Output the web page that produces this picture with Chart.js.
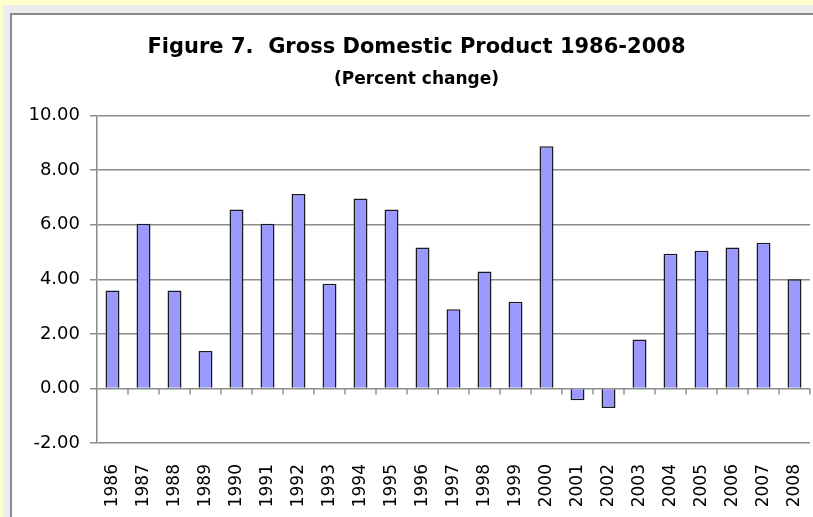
<!DOCTYPE html>
<html>
<head>
<meta charset="utf-8">
<title>Figure 7. Gross Domestic Product 1986-2008</title>
<script src="https://cdn.jsdelivr.net/npm/chart.js@4/dist/chart.umd.min.js"></script>
<style>
    html, body {
        margin: 0;
        padding: 0;
        width: 813px;
        height: 517px;
        overflow: hidden;
        background: #ffffcc;
    }
    #gdpChart {
        position: absolute;
        left: 0;
        top: 0;
    }
</style>
</head>
<body>
<canvas id="gdpChart" width="813" height="517"></canvas>
<script>
// ============================================================================
// Data
// ============================================================================

const YEARS = [
    '1986', '1987', '1988', '1989', '1990', '1991', '1992', '1993',
    '1994', '1995', '1996', '1997', '1998', '1999', '2000', '2001',
    '2002', '2003', '2004', '2005', '2006', '2007', '2008'
];

// GDP, percent change on previous year
const GDP_CHANGE = [
    3.59, 6.04, 3.59, 1.37, 6.56, 6.04, 7.13, 3.84,
    6.96, 6.56, 5.17, 2.90, 4.29, 3.18, 8.88, -0.43,
    -0.72, 1.79, 4.94, 5.05, 5.17, 5.34, 4.00
];

const Y_MIN = -2;
const Y_MAX = 10;
const Y_STEP = 2;

// ============================================================================
// Styling
// ============================================================================

const FONT_FAMILY = '"DejaVu Sans", sans-serif';
const GRID_COLOR = '#8c8c8c';
const BAR_FILL = '#9999ff';
const BAR_EDGE = '#1a1a1a';

/**
 * Page backdrop: pale yellow page, grey window frame, white chart panel
 */
const panelBackdrop = {
    id: 'panelBackdrop',
    beforeDraw(chart) {
        const { ctx, width, height } = chart;
        ctx.save();
        ctx.fillStyle = '#ffffcc';
        ctx.fillRect(0, 0, width, height);
        ctx.fillStyle = '#ececec';
        ctx.fillRect(3, 5, width - 3, height - 5);
        ctx.fillStyle = GRID_COLOR;
        ctx.fillRect(10, 13, width - 10, height - 13);
        ctx.fillStyle = '#ffffff';
        ctx.fillRect(12, 15, width - 12, height - 15);
        ctx.restore();
    }
};

/**
 * Small tick marks hanging under the zero line, one per category boundary
 * (the category axis crosses the value axis at 0, Excel style)
 */
const zeroLineTicks = {
    id: 'zeroLineTicks',
    afterDatasetsDraw(chart) {
        const { ctx, scales: { x, y } } = chart;
        const y0 = y.getPixelForValue(0);
        const n = YEARS.length;

        ctx.save();
        ctx.strokeStyle = GRID_COLOR;
        ctx.lineWidth = 1.5;
        ctx.beginPath();
        for (let i = 1; i <= n; i++) {
            const px = i < n
                ? (x.getPixelForValue(i - 1) + x.getPixelForValue(i)) / 2
                : x.right;
            ctx.moveTo(px, y0);
            ctx.lineTo(px, y0 + 6);
        }
        ctx.stroke();
        ctx.restore();
    }
};

// ============================================================================
// Chart
// ============================================================================

const initGdpChart = () => {
    const canvas = document.getElementById('gdpChart');
    if (!canvas) {
        console.warn('Chart canvas element not found');
        return;
    }

    Chart.defaults.color = '#000000';
    Chart.defaults.font.family = FONT_FAMILY;

    new Chart(canvas.getContext('2d'), {
        type: 'bar',
        data: {
            labels: YEARS,
            datasets: [{
                data: GDP_CHANGE,
                backgroundColor: BAR_FILL,
                borderColor: BAR_EDGE,
                borderWidth: 1.5,
                barPercentage: 0.45,
                categoryPercentage: 1.0,
            }]
        },
        options: {
            responsive: false,
            animation: false,
            layout: {
                padding: { top: 0, left: 23, right: 3, bottom: 0 }
            },
            plugins: {
                legend: { display: false },
                tooltip: { enabled: false },
                title: {
                    display: true,
                    text: 'Figure 7.  Gross Domestic Product 1986-2008',
                    font: { size: 21, weight: 'bold', lineHeight: 1.2 },
                    padding: { top: 35, bottom: 3 },
                },
                subtitle: {
                    display: true,
                    text: '(Percent change)',
                    font: { size: 17, weight: 'bold', lineHeight: 1.2 },
                    padding: { top: 6, bottom: 26 },
                },
            },
            scales: {
                x: {
                    grid: { display: false },
                    border: { display: false },
                    ticks: {
                        minRotation: 90,
                        maxRotation: 90,
                        padding: 13,
                        font: { size: 17 },
                    },
                    afterFit: (scale) => {
                        // fixed axis band; drop the extra room Chart.js keeps
                        // for the last rotated label
                        scale.height = 74;
                        scale.paddingLeft = 0;
                        scale.paddingRight = 0;
                    },
                },
                y: {
                    min: Y_MIN,
                    max: Y_MAX,
                    grid: {
                        color: GRID_COLOR,
                        lineWidth: 1.5,
                        tickLength: 7,
                    },
                    border: { color: GRID_COLOR, width: 1.5 },
                    ticks: {
                        stepSize: Y_STEP,
                        padding: 10,
                        font: { size: 18 },
                        callback: (value) => Number(value).toFixed(2),
                    },
                    afterFit: (scale) => { scale.width = 74; },
                },
            },
        },
        plugins: [panelBackdrop, zeroLineTicks],
    });
};

if (document.readyState === 'loading') {
    document.addEventListener('DOMContentLoaded', initGdpChart);
} else {
    initGdpChart();
}
</script>
</body>
</html>
